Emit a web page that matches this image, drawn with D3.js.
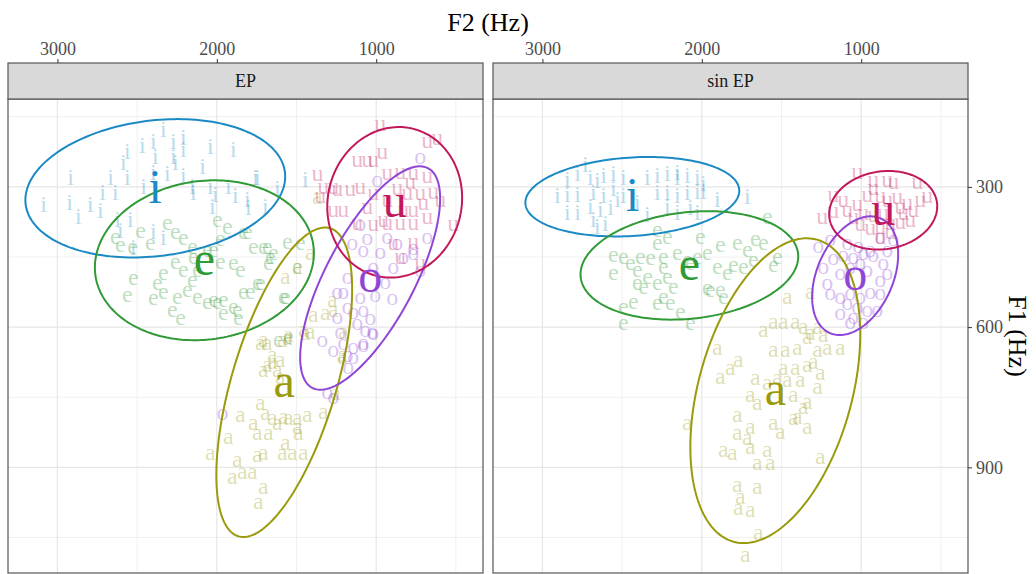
<!DOCTYPE html>
<html>
<head>
<meta charset="utf-8">
<script src="https://cdn.jsdelivr.net/npm/d3@7"></script>
<style>
  body { margin: 0; background: #fff; }
  svg text { font-family: "Liberation Serif", "DejaVu Serif", serif; }
</style>
</head>
<body>
<div class="chart"></div>
<script>
// tamaño del lienzo
var width = 1036, height = 574;

var vowels = ["i", "e", "a", "o", "u"];
var vowelColors = ["#1b8ac4", "#2f9a36", "#9a9a0c", "#9045d6", "#c2185b"];
var facets = ["EP", "sin EP"];
var f2Ticks = [3000, 2000, 1000];
var f2Minor = [2500, 1500, 500];
var f1Ticks = [300, 600, 900];
var f1Minor = [150, 450, 750, 1050];

// puntos [F2, F1] por vocal -- EP
var ep_i = [[3087,338],[2918,280],[2924,333],[2868,365],[2793,338],[2717,312],[2730,352],[2667,280],[2636,312],[2623,370],[2605,395],[2586,248],[2561,280],[2561,226],[2542,370],[2467,213],[2460,299],[2398,204],[2385,235],[2398,269],[2398,397],[2335,177],[2310,273],[2272,235],[2272,204],[2260,248],[2210,194],[2210,220],[2210,277],[2153,299],[2147,312],[2090,256],[2040,215],[2040,299],[2028,342],[2009,316],[1927,299],[1896,220],[1884,320],[1808,327],[1802,344],[1746,280],[1696,342],[1620,305],[1445,284],[1758,280],[2335,408],[2523,430]];
var ep_e = [[2636,406],[2605,423],[2529,428],[2479,395],[2417,419],[2310,376],[2260,397],[2210,408],[2153,428],[2147,449],[2260,460],[2335,483],[2373,505],[2561,530],[2523,494],[2398,537],[2335,524],[2279,563],[2228,580],[2247,535],[2185,520],[2153,498],[2210,477],[2122,535],[2059,545],[1996,545],[1959,541],[1896,556],[1865,580],[1852,477],[1896,462],[1978,460],[2021,434],[1978,412],[2059,434],[1996,370],[1934,385],[1808,397],[1771,428],[1727,505],[1789,524],[1683,428],[1645,440],[1677,462],[1558,417],[1495,470],[1570,535],[1959,569],[2122,477],[1833,397],[1708,428],[1665,449],[1746,505],[1833,524],[1871,563],[1583,535],[2021,541],[1614,627],[1551,620],[1476,419]];
var ep_a = [[1369,322],[1495,470],[1570,492],[1413,440],[1708,627],[1652,659],[1589,627],[1683,680],[1395,573],[1319,569],[1269,563],[1275,541],[1457,605],[1413,610],[1206,610],[1213,659],[1558,622],[1727,633],[1683,633],[1652,674],[1601,670],[1708,691],[1620,691],[1601,706],[1852,788],[1727,762],[1696,783],[1652,794],[1620,805],[1771,805],[1746,826],[1677,826],[1583,792],[1551,794],[1495,794],[1432,787],[1332,781],[1489,826],[1495,813],[1927,835],[2040,869],[1871,884],[1746,873],[1708,869],[1589,869],[1570,847],[1526,869],[1457,869],[1902,920],[1840,910],[1777,910],[1708,942],[1740,974],[1257,740],[1213,663],[1445,612],[1551,616]];
var ep_o = [[724,235],[993,284],[1100,380],[1056,408],[1081,434],[974,438],[930,406],[868,419],[768,430],[680,406],[830,449],[893,470],[1018,470],[1180,492],[1206,524],[1244,524],[1100,535],[1006,530],[899,537],[1180,556],[1144,567],[1081,563],[1037,580],[1119,590],[1069,605],[1025,610],[1244,578],[1225,610],[1338,627],[1206,633],[1144,663],[1081,637],[1269,648],[1175,685],[768,440],[724,477],[943,503],[1150,419],[1965,783],[1307,738],[1269,749],[1180,659],[1144,642],[1081,633],[1018,612]];
var ep_u = [[974,166],[962,224],[1119,241],[1056,241],[1018,241],[617,194],[680,202],[1369,273],[1332,299],[1269,299],[1351,320],[1269,348],[1206,348],[1244,305],[1163,305],[1100,299],[931,269],[849,267],[768,269],[680,277],[642,310],[598,327],[705,333],[768,348],[805,312],[868,301],[931,327],[1018,312],[1056,342],[1119,376],[1018,380],[931,376],[849,376],[768,376],[680,365],[517,380],[768,417],[724,462],[849,449],[893,419],[956,370],[830,348],[724,312],[787,290]];

// puntos [F2, F1] por vocal -- sin EP
var sin_i = [[2730,252],[2780,273],[2843,284],[2906,320],[2843,316],[2780,316],[2843,355],[2780,355],[2699,280],[2655,288],[2617,277],[2555,273],[2492,280],[2680,312],[2617,320],[2555,305],[2529,327],[2699,342],[2636,348],[2573,344],[2680,370],[2655,385],[2605,380],[2492,320],[2341,280],[2279,277],[2216,273],[2153,269],[2091,277],[2028,280],[1990,294],[2279,312],[2216,312],[2153,320],[2091,312],[2028,310],[1990,310],[2216,342],[2153,355],[2072,344],[2028,355],[2341,359],[1902,327],[1714,322],[2153,280],[2404,333]];
var sin_e = [[2555,445],[2492,449],[2448,462],[2385,449],[2322,451],[2279,419],[2279,391],[2216,406],[2009,406],[1884,423],[1965,440],[2028,449],[2091,455],[2153,440],[2241,449],[2555,483],[2404,477],[2341,492],[2404,505],[2366,513],[2279,505],[2216,492],[2178,513],[2241,535],[2197,548],[2134,567],[2072,590],[1902,470],[1840,483],[1802,466],[1740,470],[1677,455],[1664,412],[1614,419],[1589,363],[1714,434],[1946,520],[1865,535],[1884,520],[2072,462],[2241,470],[2492,556],[2492,590],[2429,545],[2279,548],[1526,449],[1551,466],[1777,419],[1965,515]];
var sin_a = [[1464,535],[1614,605],[1551,588],[1489,588],[1413,588],[1363,599],[1319,612],[1274,599],[1238,616],[1338,620],[1551,648],[1476,648],[1274,648],[1213,644],[1131,644],[1301,674],[1884,706],[1821,687],[1771,670],[1902,644],[1489,687],[1413,687],[1338,680],[1257,697],[1274,728],[1664,708],[1589,719],[1526,708],[1464,713],[1382,713],[1696,745],[1652,762],[1426,745],[1338,760],[1363,770],[2091,805],[1777,787],[1696,813],[1551,805],[1507,824],[1426,794],[1401,792],[1338,813],[1777,826],[1714,837],[1865,863],[1808,869],[1696,856],[1589,863],[1652,890],[1570,890],[1257,878],[1777,938],[1652,942],[1758,963],[1696,991],[1771,987],[1645,1040],[1727,1088],[1319,524],[1401,644]];
var sin_o = [[1269,427],[1194,412],[1087,419],[1238,470],[1175,451],[1112,445],[1050,449],[987,440],[924,445],[862,462],[837,483],[880,498],[962,477],[1006,462],[1069,470],[1131,483],[1213,505],[1194,526],[1131,535],[1069,526],[1006,535],[943,524],[880,526],[1087,548],[1025,556],[962,563],[899,563],[1131,569],[1050,578],[987,588],[1069,588],[943,434],[1018,427],[837,434],[799,412],[880,406]];
var sin_u = [[1025,267],[799,290],[649,290],[1175,316],[1112,327],[1244,363],[1175,352],[1087,348],[1025,337],[962,316],[924,301],[880,320],[837,327],[774,322],[711,333],[630,327],[674,348],[736,355],[862,355],[924,359],[987,355],[1050,363],[1006,380],[943,387],[880,385],[818,376],[755,374],[692,370],[880,406],[818,397],[755,342],[586,320],[924,284],[837,284]];

// resumen por vocal (orden i e a o u): medias, desviaciones y correlación
var ep_meanF2 = [2386, 2078, 1577, 1038, 884];
var ep_meanF1 = [303, 457, 718, 495, 333];
var ep_sdF2 = [815, 687, 426, 439, 423];
var ep_sdF1 = [148, 171, 331, 239, 161];
var ep_r = [0.17, 0.09, 0.60, 0.71, 0.06];

var sin_meanF2 = [2436, 2078, 1539, 1038, 862];
var sin_meanF1 = [321, 468, 736, 490, 350];
var sin_sdF2 = [671, 683, 533, 270, 339];
var sin_sdF1 = [85, 116, 326, 127, 84];
var sin_r = [0.15, 0.165, 0.37, 0.36, 0.10];

var panelData = [
  { name: facets[0], pts: [ep_i, ep_e, ep_a, ep_o, ep_u],
    m2: ep_meanF2, m1: ep_meanF1, s2: ep_sdF2, s1: ep_sdF1, r: ep_r },
  { name: facets[1], pts: [sin_i, sin_e, sin_a, sin_o, sin_u],
    m2: sin_meanF2, m1: sin_meanF1, s2: sin_sdF2, s1: sin_sdF1, r: sin_r }
];

var panelLeft = [8, 493], panelW = 475;
var stripTop = 63, panelTop = 99, panelBottom = 573;

var x = d3.scaleLinear().domain([3310, 330]).range([0, panelW]);
var y = d3.scaleLinear().domain([112, 1126]).range([panelTop, panelBottom]);

var svg = d3.select(".chart").append("svg")
    .attr("width", width)
    .attr("height", height);

// título eje x
svg.append("text")
    .attr("x", (panelLeft[0] + panelLeft[1] + panelW) / 2)
    .attr("y", 31)
    .attr("text-anchor", "middle")
    .style("font-size", "26px")
    .style("fill", "#000")
    .text("F2 (Hz)");

// título eje y (derecha)
svg.append("text")
    .attr("transform", "translate(1009," + ((panelTop + panelBottom) / 2) + ") rotate(90)")
    .attr("text-anchor", "middle")
    .style("font-size", "26px")
    .style("fill", "#000")
    .text("F1 (Hz)");

var ellipseLine = d3.line().curve(d3.curveLinearClosed);
var tSteps = d3.range(0, 2 * Math.PI, Math.PI / 90);

panelData.forEach(function (p, k) {
    var g = svg.append("g").attr("transform", "translate(" + panelLeft[k] + ",0)");

    g.append("clipPath").attr("id", "clip" + k)
      .append("rect")
        .attr("x", 0).attr("y", panelTop)
        .attr("width", panelW).attr("height", panelBottom - panelTop);

    // rejilla
    g.selectAll(".minx").data(f2Minor).enter().append("line")
        .attr("x1", function (d) { return x(d); }).attr("x2", function (d) { return x(d); })
        .attr("y1", panelTop).attr("y2", panelBottom)
        .style("stroke", "#ececec").style("stroke-width", 0.8);
    g.selectAll(".miny").data(f1Minor).enter().append("line")
        .attr("x1", 0).attr("x2", panelW)
        .attr("y1", function (d) { return y(d); }).attr("y2", function (d) { return y(d); })
        .style("stroke", "#ececec").style("stroke-width", 0.8);
    g.selectAll(".majx").data(f2Ticks).enter().append("line")
        .attr("x1", function (d) { return x(d); }).attr("x2", function (d) { return x(d); })
        .attr("y1", panelTop).attr("y2", panelBottom)
        .style("stroke", "#e6e6e6").style("stroke-width", 1.2);
    g.selectAll(".majy").data(f1Ticks).enter().append("line")
        .attr("x1", 0).attr("x2", panelW)
        .attr("y1", function (d) { return y(d); }).attr("y2", function (d) { return y(d); })
        .style("stroke", "#e6e6e6").style("stroke-width", 1.2);

    var plot = g.append("g").attr("clip-path", "url(#clip" + k + ")");

    // puntos como letras
    vowels.forEach(function (v, j) {
        plot.selectAll(".pt" + j).data(p.pts[j]).enter().append("text")
            .attr("x", function (d) { return x(d[0]); })
            .attr("y", function (d) { return y(d[1]); })
            .attr("text-anchor", "middle")
            .attr("dy", "0.3em")
            .style("font-size", "24px")
            .style("fill", vowelColors[j])
            .style("fill-opacity", 0.33)
            .text(v);
    });

    // elipses
    vowels.forEach(function (v, j) {
        var rr = p.r[j], q = Math.sqrt(1 - rr * rr);
        var pts = tSteps.map(function (t) {
            var f2 = p.m2[j] + p.s2[j] * Math.cos(t);
            var f1 = p.m1[j] + p.s1[j] * (rr * Math.cos(t) + q * Math.sin(t));
            return [x(f2), y(f1)];
        });
        plot.append("path")
            .attr("d", ellipseLine(pts))
            .style("fill", "none")
            .style("stroke", vowelColors[j])
            .style("stroke-width", 2);
    });

    // etiquetas en la media
    vowels.forEach(function (v, j) {
        plot.append("text")
            .attr("x", x(p.m2[j]))
            .attr("y", y(p.m1[j]))
            .attr("text-anchor", "middle")
            .attr("dy", "0.3em")
            .style("font-size", "48px")
            .style("fill", vowelColors[j])
            .text(v);
    });

    // borde del panel
    g.append("rect")
        .attr("x", 0).attr("y", panelTop)
        .attr("width", panelW).attr("height", panelBottom - panelTop)
        .style("fill", "none").style("stroke", "#555").style("stroke-width", 1.2);

    // tira superior
    g.append("rect")
        .attr("x", 0).attr("y", stripTop)
        .attr("width", panelW).attr("height", panelTop - stripTop)
        .style("fill", "#d9d9d9").style("stroke", "#555").style("stroke-width", 1.2);
    g.append("text")
        .attr("x", panelW / 2).attr("y", (stripTop + panelTop) / 2)
        .attr("dy", "0.35em")
        .attr("text-anchor", "middle")
        .style("font-size", "18px")
        .style("fill", "#1a1a1a")
        .text(p.name);

    // eje superior
    var axTop = g.append("g")
        .attr("transform", "translate(0," + stripTop + ")")
        .call(d3.axisTop(x).tickValues(f2Ticks).tickSize(4).tickPadding(4).tickFormat(d3.format("d")));
    axTop.select(".domain").remove();
    axTop.selectAll("line").style("stroke", "#333");
    axTop.selectAll("text").style("font-size", "18px").style("fill", "#4d4d4d")
        .style("font-family", "'Liberation Serif', serif");
});

// eje derecho
var axRight = svg.append("g")
    .attr("transform", "translate(" + (panelLeft[1] + panelW) + ",0)")
    .call(d3.axisRight(y).tickValues(f1Ticks).tickSize(4).tickPadding(4).tickFormat(d3.format("d")));
axRight.select(".domain").remove();
axRight.selectAll("line").style("stroke", "#333");
axRight.selectAll("text").style("font-size", "18px").style("fill", "#4d4d4d")
    .style("font-family", "'Liberation Serif', serif");
</script>
</body>
</html>
